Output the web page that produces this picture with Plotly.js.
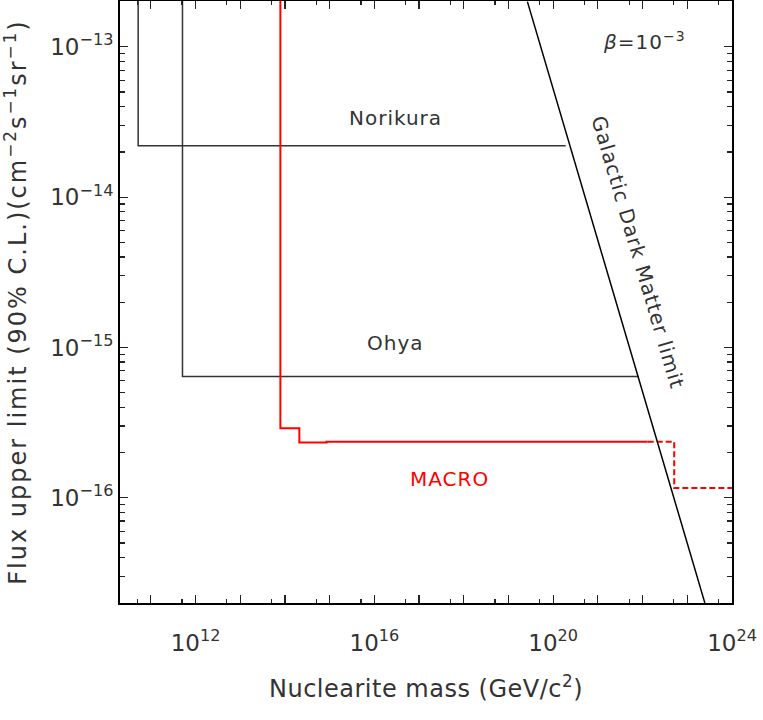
<!DOCTYPE html>
<html>
<head>
<meta charset="utf-8">
<script src="https://cdn.plot.ly/plotly-3.0.1.min.js"></script>
<style>
  html, body { margin: 0; padding: 0; background: #fff; }
  #chart { width: 763px; height: 720px; }
  /* the original uses a wide geometric face; widen DejaVu a little */
  .annotation-text { letter-spacing: 1px; }
  .xtitle { letter-spacing: 0.5px; }
  .ytitle { letter-spacing: 2px; }
</style>
</head>
<body>
<div id="chart"></div>
<script>
// nuclearite flux limits, beta = 1e-3 (mass in GeV/c^2, flux in cm^-2 s^-1 sr^-1)
const noriMass = [5.2e10, 5.2e10, 1.9e20];
const noriFlux = [1e-12, 2.2e-14, 2.2e-14];

const ohyaMass = [5.1e11, 5.1e11, 8.1e21];
const ohyaFlux = [1e-12, 6.4e-16, 6.4e-16];

const macroMass = [7.9e13, 7.9e13, 2.1e14, 2.1e14, 8.5e14, 8.5e14, 1.3e22];
const macroFlux = [1e-12, 2.9e-16, 2.9e-16, 2.33e-16, 2.33e-16, 2.36e-16, 2.36e-16];

const macroExtMass = [1.3e22, 5.1e22, 5.1e22, 1e24];
const macroExtFlux = [2.36e-16, 2.36e-16, 1.16e-16, 1.16e-16];

const dmMass = [2.65e19, 2.47e23];
const dmFlux = [2.0e-13, 2.0e-17];

const xMajor = [11, 12, 13, 14, 15, 16, 17, 18, 19, 20, 21, 22, 23, 24];
const xLabeled = [12, 16, 20, 24];
const yMajor = [-16, -15, -14, -13];

const fontFam = "DejaVu Sans, sans-serif";

const xTickVals = xMajor.map(p => Math.pow(10, p));
const xTickText = xMajor.map(p => xLabeled.includes(p) ? "10<sup>" + p + "</sup>" : " ");
const xMinorVals = [10].concat(xMajor).map(p => 5 * Math.pow(10, p));

const yTickVals = yMajor.map(p => Math.pow(10, p));
const yTickText = yMajor.map(p => "10<sup>\u2212" + (-p) + "</sup>");
let yMinorVals = [];
[-17, -16, -15, -14, -13].forEach(p => {
  for (let d = 2; d <= 9; d++) yMinorVals.push(d * Math.pow(10, p));
});

const traces = [
  { x: noriMass, y: noriFlux, mode: "lines", line: {color: "#333", width: 1.5}, name: "Norikura" },
  { x: ohyaMass, y: ohyaFlux, mode: "lines", line: {color: "#333", width: 1.5}, name: "Ohya" },
  { x: macroMass, y: macroFlux, mode: "lines", line: {color: "#ff0000", width: 2}, name: "MACRO" },
  { x: macroExtMass, y: macroExtFlux, mode: "lines", line: {color: "#ff0000", width: 2, dash: "6px,3px"}, name: "MACRO ext" },
  { x: dmMass, y: dmFlux, mode: "lines", line: {color: "#000", width: 1.5}, name: "Galactic DM" }
];

const layout = {
  width: 763,
  height: 720,
  showlegend: false,
  paper_bgcolor: "#fff",
  plot_bgcolor: "#fff",
  margin: {l: 120, r: 31, t: 1, b: 117},
  font: {family: fontFam, color: "#333"},
  xaxis: {
    type: "log",
    range: [10.31, 24],
    showgrid: false,
    zeroline: false,
    showline: true,
    linecolor: "#000",
    linewidth: 2,
    mirror: "allticks",
    ticks: "inside",
    ticklen: 8,
    tickwidth: 1.2,
    tickcolor: "#222",
    tickmode: "array",
    tickvals: xTickVals,
    ticktext: xTickText,
    ticklabelstandoff: 18,
    tickfont: {size: 23, color: "#333"},
    minor: {tickmode: "array", tickvals: xMinorVals, ticks: "inside", ticklen: 4, tickwidth: 1.2, tickcolor: "#222", showgrid: false},
    title: {text: "Nuclearite mass (GeV/c<sup>2</sup>)", font: {size: 24, color: "#333"}, standoff: 26},
    automargin: false
  },
  yaxis: {
    type: "log",
    range: [-16.70, -12.695],
    showgrid: false,
    zeroline: false,
    showline: true,
    linecolor: "#000",
    linewidth: 2,
    mirror: "allticks",
    ticks: "inside",
    ticklen: 8,
    tickwidth: 1.2,
    tickcolor: "#222",
    tickmode: "array",
    tickvals: yTickVals,
    ticktext: yTickText,
    tickfont: {size: 23, color: "#333"},
    minor: {tickmode: "array", tickvals: yMinorVals, ticks: "inside", ticklen: 5, tickwidth: 1.2, tickcolor: "#222", showgrid: false},
    title: {text: "Flux upper limit (90% C.L.)(cm<sup>\u22122</sup>s<sup>\u22121</sup>sr<sup>\u22121</sup>)", font: {size: 24, color: "#333"}, standoff: 22},
    automargin: false
  },
  annotations: [
    { x: 16.48, y: -13.471, xref: "x", yref: "y", text: "Norikura", showarrow: false, font: {size: 20, color: "#333"} },
    { x: 16.48, y: -14.969, xref: "x", yref: "y", text: "Ohya", showarrow: false, font: {size: 20, color: "#333"} },
    { x: 17.69, y: -15.878, xref: "x", yref: "y", text: "MACRO", showarrow: false, font: {size: 20, color: "#ff0000"} },
    { x: 22.04, y: -12.96, xref: "x", yref: "y", text: "<i>\u03b2</i>=10<sup>\u22123</sup>", showarrow: false, font: {size: 20, color: "#333"} },
    { x: 21.886, y: -14.368, xref: "x", yref: "y", text: "Galactic Dark Matter limit", textangle: 73.6, showarrow: false, font: {size: 20, color: "#333"} }
  ]
};

Plotly.newPlot("chart", traces, layout, {displayModeBar: false, staticPlot: true});
</script>
</body>
</html>
